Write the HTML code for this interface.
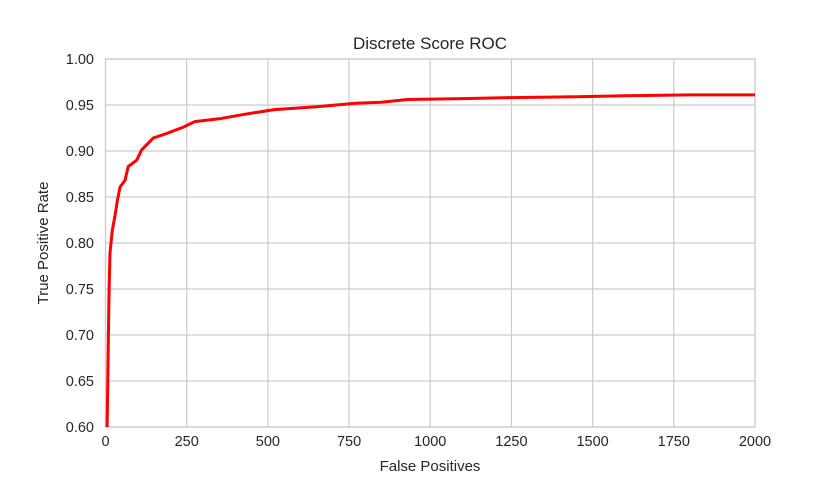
<!DOCTYPE html>
<html><head><meta charset="utf-8"><style>
body{margin:0;background:#fff;font-family:"Liberation Sans",sans-serif}
svg text{fill:#262626;font-family:"Liberation Sans",sans-serif}
</style></head><body>
<svg id="chart" width="840" height="480">
<g id="grid"></g>
<rect x="105.5" y="59" width="649.5" height="368" fill="none" stroke="#cccccc" stroke-width="1.2"/>
<g id="ticks"></g>
<path id="curve" fill="none" stroke="#ff0000" stroke-width="3" stroke-linejoin="round"/>
<text x="430" y="49" font-size="17" text-anchor="middle">Discrete Score ROC</text>
<text x="430" y="471" font-size="15" text-anchor="middle">False Positives</text>
<text x="48" y="243" font-size="15" text-anchor="middle" transform="rotate(-90 48 243)">True Positive Rate</text>
</svg>
<script>
const fpValues=[5,7,9,11,14,21,29,37,45,60,70,96,111,147,188,240,275,350,430,520,650,770,850,930,1100,1250,1450,1600,1800,2000];
const tprValues=[0.60,0.65,0.70,0.75,0.789,0.814,0.829,0.847,0.861,0.868,0.883,0.890,0.901,0.914,0.919,0.926,0.932,0.935,0.940,0.945,0.948,0.952,0.953,0.956,0.957,0.958,0.959,0.960,0.961,0.961];
const xTicks=[0,250,500,750,1000,1250,1500,1750,2000];
const yTicks=[0.60,0.65,0.70,0.75,0.80,0.85,0.90,0.95,1.00];
const X=v=>105.5+v*(649.5/2000);
const Y=v=>427-(v-0.6)*(368/0.4);
const ns='http://www.w3.org/2000/svg';
const grid=document.getElementById('grid'),tk=document.getElementById('ticks');
xTicks.forEach(t=>{
 const l=document.createElementNS(ns,'line');
 l.setAttribute('x1',X(t));l.setAttribute('x2',X(t));l.setAttribute('y1',59);l.setAttribute('y2',427);
 l.setAttribute('stroke','#cccccc');l.setAttribute('stroke-width','1.2');
 
 
 grid.appendChild(l);
 const s=document.createElementNS(ns,'text');
 s.setAttribute('x',X(t));s.setAttribute('y',446);s.setAttribute('font-size','14.5');s.setAttribute('text-anchor','middle');
 s.textContent=t;
 
 
 tk.appendChild(s);
});
yTicks.forEach(t=>{
 const l=document.createElementNS(ns,'line');
 l.setAttribute('x1',105.5);l.setAttribute('x2',755);l.setAttribute('y1',Y(t));l.setAttribute('y2',Y(t));
 l.setAttribute('stroke','#cccccc');l.setAttribute('stroke-width','1.2');
 
 
 grid.appendChild(l);
 const s=document.createElementNS(ns,'text');
 s.setAttribute('x',94);s.setAttribute('y',Y(t)+5);s.setAttribute('font-size','14.5');s.setAttribute('text-anchor','end');
 s.textContent=t.toFixed(2);
 
 
 tk.appendChild(s);
});
document.getElementById('curve').setAttribute('d',fpValues.map((v,i)=>(i?'L':'M')+X(v).toFixed(1)+','+Y(tprValues[i]).toFixed(1)).join(''));
</script>
</body></html>
